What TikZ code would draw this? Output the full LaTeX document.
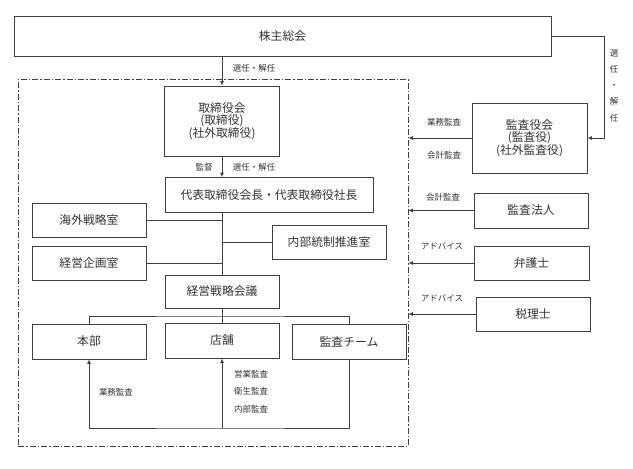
\documentclass[tikz,border=0pt]{standalone}
\usepackage{fontspec}
\setmainfont{Noto Sans CJK JP}
\usetikzlibrary{arrows.meta,calc}
\definecolor{linegray}{HTML}{404040}
\definecolor{textgray}{HTML}{333333}

\begin{document}
\begin{tikzpicture}[x=1pt,y=-1pt,
    box/.style={draw=linegray, line width=0.8pt, text=textgray, align=center,
                inner sep=0pt, font=\fontsize{11.8}{12.5}\selectfont},
    lbl/.style={text=textgray, inner sep=1pt, font=\fontsize{8.5}{9}\selectfont},
    conn/.style={draw=linegray, line width=0.8pt},
    arr/.style={conn, -{Latex[length=4.5pt,width=4pt]}}]
  \useasboundingbox (0,0) rectangle (633,469);
  % Shareholders
  \node[box, minimum width=537pt, minimum height=40pt] (share) at (282.5,36) {株主総会};
  % Company frame
  \node[draw=linegray, line width=0.8pt, dash pattern=on 6pt off 2pt on 1.5pt off 2pt,
        minimum width=390pt, minimum height=367pt, inner sep=0pt] (group) at (213,262.5) {};
  % Board and executives
  \node[box, minimum width=115pt, minimum height=70pt] (bod) at (222,121)
    {取締役会\\(取締役)\\(社外取締役)};
  \node[box, minimum width=208pt, minimum height=35pt] (ceo) at (269,195)
    {代表取締役会長・代表取締役社長};
  \node[box, minimum width=114pt, minimum height=34pt] (kaigai) at (89,220) {海外戦略室};
  \node[box, minimum width=114pt, minimum height=34pt] (kikaku) at (89,263.5) {経営企画室};
  \node[box, minimum width=114pt, minimum height=34pt] (naibu) at (329,242) {内部統制推進室};
  \node[box, minimum width=114pt, minimum height=33pt] (senryaku) at (222,291.5) {経営戦略会議};
  % Operations
  \node[box, minimum width=114pt, minimum height=35pt] (honbu) at (89,341.5) {本部};
  \node[box, minimum width=114pt, minimum height=35pt] (tenpo) at (222,340.5) {店舗};
  \node[box, minimum width=114pt, minimum height=35pt] (team) at (349,341.5) {監査チーム};
  % Outside parties
  \node[box, minimum width=115pt, minimum height=70pt] (kansayaku) at (529.5,138)
    {監査役会\\(監査役)\\(社外監査役)};
  \node[box, minimum width=114pt, minimum height=35pt] (houjin) at (531,210.5) {監査法人};
  \node[box, minimum width=115pt, minimum height=34pt] (bengo) at (531.5,263) {弁護士};
  \node[box, minimum width=114pt, minimum height=34pt] (zeiri) at (533,314) {税理士};

  % Connectors inside
  \draw[arr] (share.south -| bod.north) -- (bod.north);
  \draw[arr] (bod.south) -- (bod.south |- ceo.north);
  \draw[conn] (bod.south |- ceo.south) -- (senryaku.north);
  \draw[conn] (kaigai.east) -- (kaigai.east -| senryaku.north);
  \draw[conn] (kikaku.east) -- (kikaku.east -| senryaku.north);
  \draw[conn] (naibu.west) -- (naibu.west -| senryaku.north);
  \coordinate (bus) at (222,316);
  \draw[conn] (senryaku.south) -- (tenpo.north);
  \draw[conn] (honbu.north) |- (bus) -| (team.north);
  \coordinate (loop) at (222,428);
  \draw[arr] (team.south) |- (loop) -| (honbu.south);
  \draw[arr] (loop) -- (tenpo.south);
  % Connectors outside
  \coordinate (elbow) at (604,36);
  \draw[arr] (share.east) -- (elbow) |- (kansayaku.east);
  \draw[arr] (kansayaku.west) -- (kansayaku.west -| group.east);
  \draw[arr] (houjin.west) -- (houjin.west -| group.east);
  \draw[arr] (bengo.west) -- (bengo.west -| group.east);
  \draw[arr] (zeiri.west) -- (zeiri.west -| group.east);

  % Labels
  \node[lbl] (l-elect) at (254,68) {選任・解任};
  \node[lbl] (l-super) at (204,167) {監督};
  \node[lbl] (l-elect2) at (254,167) {選任・解任};
  \node[lbl, align=center, font=\fontsize{8.5}{16.3}\selectfont] (l-vert) at (614,85.5)
    {選\\任\\・\\解\\任};
  \node[lbl] (l-ops1) at (444,122) {業務監査};
  \node[lbl] (l-acc1) at (444,155) {会計監査};
  \node[lbl] (l-acc2) at (443,197) {会計監査};
  \node[lbl] (l-adv1) at (442,246) {アドバイス};
  \node[lbl] (l-adv2) at (442,298) {アドバイス};
  \node[lbl] (l-ops2) at (116,392) {業務監査};
  \node[lbl] (l-sales) at (251,374) {営業監査};
  \node[lbl] (l-hyg) at (251,391) {衛生監査};
  \node[lbl] (l-int) at (251,409) {内部監査};
\end{tikzpicture}
\end{document}
